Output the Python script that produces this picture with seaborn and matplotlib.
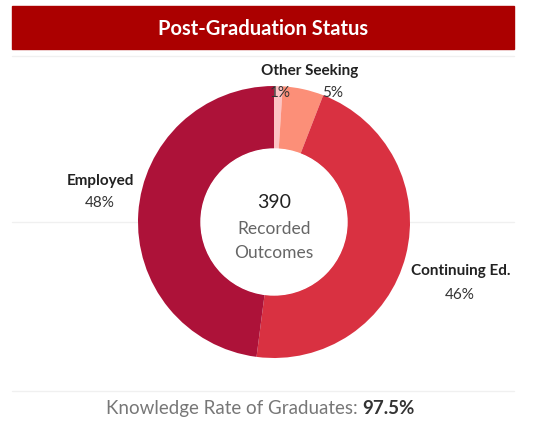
import matplotlib
matplotlib.use("Agg")
import matplotlib.pyplot as plt
import seaborn as sns

# data
status = ["Other", "Seeking", "Continuing Ed.", "Employed"]
counts = [4, 19, 180, 187]
pct_labels = ["1%", "5%", "46%", "48%"]
colors = ["#fcc3c3", "#fc8f78", "#d93141", "#ad1239"]
total = 390
knowledge_rate = "97.5%"

sns.set_theme(style="white")
plt.rcParams["font.family"] = ["Lato", "DejaVu Sans"]

W, H = 544, 427
fig = plt.figure(figsize=(W / 100, H / 100), dpi=100)
ax = fig.add_axes([0, 0, 1, 1])

def Y(py):
    return H - py

# header bar
ax.add_patch(plt.Rectangle((12, Y(50)), 502, 43, color="#ab0000", zorder=1))
ax.text(263, Y(29), "Post-Graduation Status", color="white", fontsize=14.5,
        fontweight="bold", ha="center", va="center")

# faint separator lines
for yy in [57, 223, 392]:
    ax.plot([12, 514], [Y(yy), Y(yy)], color="#f0f0f0", lw=1, zorder=0)

# donut
ax.pie(counts, colors=colors, startangle=90, counterclock=False,
       center=(274, Y(223)), radius=136, frame=True,
       wedgeprops=dict(width=63, edgecolor="none"))
ax.add_patch(plt.Circle((274, Y(223)), 73, color="white", zorder=2))
ax.set_xlim(0, W)
ax.set_ylim(0, H)
ax.set_aspect("equal")
ax.axis("off")

# center text
ax.text(274, Y(203), str(total), fontsize=14, color="#222222", ha="center", va="center", zorder=3)
ax.text(274, Y(229), "Recorded", fontsize=12.5, color="#666666", ha="center", va="center", zorder=3)
ax.text(274, Y(253), "Outcomes", fontsize=12.5, color="#666666", ha="center", va="center", zorder=3)

# slice labels ("Other" and "Seeking" share one caption line)
ax.text(310, Y(71), status[0] + " " + status[1], fontsize=11, fontweight="bold",
        color="#222222", ha="center", va="center")
ax.text(100, Y(181), status[3], fontsize=11, fontweight="bold", color="#222222",
        ha="center", va="center")
ax.text(461, Y(271), status[2], fontsize=11, fontweight="bold", color="#222222",
        ha="center", va="center")
pct_pos = [(280, 93), (333, 93), (460, 295), (100, 203)]
for pct, (px, py) in zip(pct_labels, pct_pos):
    ax.text(px, Y(py), pct, fontsize=11, color="#333333", ha="center", va="center", zorder=3)

# footer
ax.text(358, Y(409), "Knowledge Rate of Graduates:", fontsize=13.5, color="#777777",
        ha="right", va="center")
ax.text(362, Y(409), knowledge_rate, fontsize=13.5, color="#333333", fontweight="bold",
        ha="left", va="center")

fig.savefig("out.png", dpi=100, facecolor="white")
